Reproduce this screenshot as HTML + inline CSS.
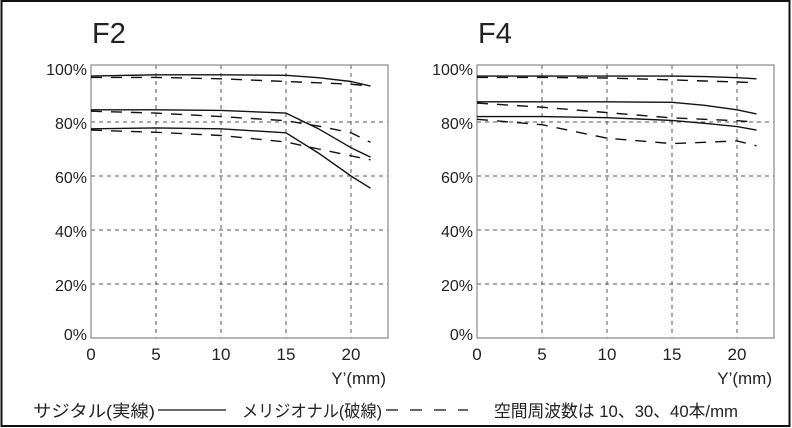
<!DOCTYPE html>
<html><head><meta charset="utf-8"><style>
html,body{margin:0;padding:0;background:#fff}
svg{display:block}
text{font-family:"Liberation Sans","Noto Sans CJK JP",sans-serif;fill:#222}
</style></head><body>
<svg id="c" width="792" height="428" viewBox="0 0 792 428" xmlns="http://www.w3.org/2000/svg">
<rect x="1.5" y="1" width="788" height="425" fill="#fff" stroke="#111" stroke-width="2"/>
<g id="legend">
<text x="33" y="417" font-size="17" textLength="122" lengthAdjust="spacingAndGlyphs">サジタル(実線)</text>
<line x1="158" y1="410" x2="226" y2="410" stroke="#111" stroke-width="1.3"/>
<text x="242" y="417" font-size="17" textLength="140" lengthAdjust="spacingAndGlyphs">メリジオナル(破線)</text>
<line x1="386" y1="410" x2="468" y2="410" stroke="#111" stroke-width="1.3" stroke-dasharray="12,12"/>
<text x="494" y="417" font-size="17" textLength="244" lengthAdjust="spacingAndGlyphs">空間周波数は 10、30、40本/mm</text>
</g>
</svg>
<script>
// Data
const yPos = [0,5,10,15,17.5,20,21.5];
const yTicks = [0,5,10,15,20];
const pctTicks = [0,20,40,60,80,100];
// F2
const f2SolidA = [97,97.5,97.5,97.3,96.4,95,93.3];
const f2SolidB = [84.5,84.5,84.3,83.3,77.5,70.5,67];
const f2SolidC = [77.5,77.8,77.5,76,68.5,60,55.5];
const f2DashA = [96.5,96.5,96,95,94.5,94,93.3];
const f2DashB = [84,83.3,82,80.5,78.5,76,72.5];
const f2DashC = [77,76.2,75,72.6,70,67.5,66];
// F4
const f4SolidA = [97,97,97,97,96.8,96.4,96];
const f4SolidB = [87.5,87.5,87.5,87.3,86.2,84.5,83];
const f4SolidC = [82,82,81.6,80.6,79.5,78.3,77];
const f4DashA = [96.5,96.5,96.3,95.6,95.2,94.8,94.5];
const f4DashB = [87,85.5,83.5,81.5,81,80.5,80];
const f4DashC = [81,79,74,72,72.5,73,71.2];

const NS='http://www.w3.org/2000/svg';
const svg=document.getElementById('c');
function mk(tag,attrs,parent){const e=document.createElementNS(NS,tag);for(const k in attrs)e.setAttribute(k,attrs[k]);(parent||svg).appendChild(e);return e;}

function panel(x0,title,key,series){
  const top=65,bottom=338,right=x0+297,pxu=13;
  const sx=v=>x0+v*pxu, sy=v=>bottom-(bottom-top-3)*v/100;
  const g=mk('g',{});
  
  
  const t=mk('text',{x:x0+1,y:43,'font-size':29,'font-weight':'300'},g);
  t.textContent=title;
  
  
  yTicks.forEach(v=>{if(v===0)return;
    const l=mk('line',{x1:sx(v),x2:sx(v),y1:top,y2:bottom,stroke:'#555','stroke-width':1,'stroke-dasharray':'4,4'},g);
    
    });
  pctTicks.forEach(v=>{if(v===0||v===100)return;
    const l=mk('line',{x1:x0,x2:right,y1:sy(v),y2:sy(v),stroke:'#555','stroke-width':1,'stroke-dasharray':'4,4'},g);
    
    });
  const fr=mk('rect',{x:x0,y:top,width:right-x0,height:bottom-top,fill:'none',stroke:'#888','stroke-width':1.2},g);
  
  
  pctTicks.forEach(v=>{const tx=mk('text',{x:x0-4,y:sy(v)+(v===0?2:7),'font-size':16,'text-anchor':'end'},g);
    tx.textContent=v+'%';
    
    });
  yTicks.forEach(v=>{const tx=mk('text',{x:sx(v),y:360,'font-size':17,'text-anchor':'middle'},g);
    tx.textContent=v;
    
    });
  const xt=mk('text',{x:right-2,y:384,'font-size':17,'text-anchor':'end'},g);
  xt.textContent="Y’(mm)";
  
  
  series.forEach((s,i)=>{
    const d=s.v.map((v,j)=>(j?'L':'M')+sx(yPos[j]).toFixed(1)+','+sy(v).toFixed(1)).join(' ');
    const p=mk('path',{d:d,fill:'none',stroke:'#111','stroke-width':1.4,'stroke-linejoin':'round'},g);
    if(s.dash)p.setAttribute('stroke-dasharray','11,9');
    
    
  });
}
panel(91,'F2','f2',[
 {n:'sagittal-10',v:f2SolidA},{n:'sagittal-30',v:f2SolidB},{n:'sagittal-40',v:f2SolidC},
 {n:'meridional-10',v:f2DashA,dash:1},{n:'meridional-30',v:f2DashB,dash:1},{n:'meridional-40',v:f2DashC,dash:1}]);
panel(477,'F4','f4',[
 {n:'sagittal-10',v:f4SolidA},{n:'sagittal-30',v:f4SolidB},{n:'sagittal-40',v:f4SolidC},
 {n:'meridional-10',v:f4DashA,dash:1},{n:'meridional-30',v:f4DashB,dash:1},{n:'meridional-40',v:f4DashC,dash:1}]);
</script>
</body></html>
